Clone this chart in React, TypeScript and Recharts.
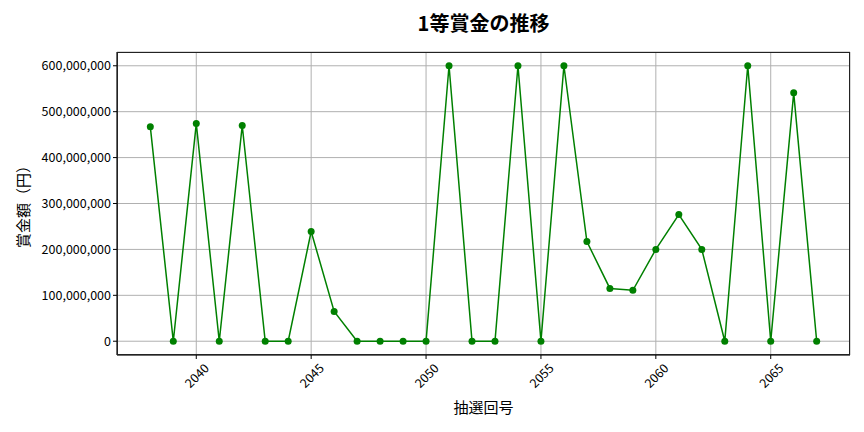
import { LineChart, Line, XAxis, YAxis, CartesianGrid } from 'recharts';

const draws = [
  2038, 2039, 2040, 2041, 2042, 2043, 2044, 2045, 2046, 2047, 2048, 2049, 2050, 2051, 2052,
  2053, 2054, 2055, 2056, 2057, 2058, 2059, 2060, 2061, 2062, 2063, 2064, 2065, 2066, 2067,
];
const prizes = [
  467000000, 0, 474000000, 0, 470000000, 0, 0, 239000000, 65000000, 0, 0, 0, 0, 600000000, 0,
  0, 600000000, 0, 600000000, 217000000, 115000000, 111000000, 200000000, 276000000, 200000000, 0, 600000000, 0, 541000000, 0,
];
const xTicks = [2040, 2045, 2050, 2055, 2060, 2065];
const yTicks = [0, 100000000, 200000000, 300000000, 400000000, 500000000, 600000000];

const FONT = '"Noto Sans CJK JP", "Noto Sans", sans-serif';

const data = draws.map((d, i) => ({ draw: d, prize: prizes[i] }));

// matplotlib-style 45° labels, centred under the tick
function XTick({ x, y, payload }: any) {
  const cy = y + 14;
  return (
    <text
      x={x}
      y={cy}
      transform={`rotate(-45, ${x}, ${cy})`}
      textAnchor="middle"
      dominantBaseline="central"
      fontSize={12.5}
      fontFamily={FONT}
      fill="#000"
    >
      {payload.value}
    </text>
  );
}

export default function App() {
  return (
    <div style={{ position: 'absolute', left: 0, top: 0, width: 864, height: 432, background: '#fff', fontFamily: FONT }}>
      <div style={{ position: 'absolute', left: 117, top: 8, width: 733, textAlign: 'center', fontSize: 20, fontWeight: 'bold' }}>
        1等賞金の推移
      </div>
      <LineChart width={864} height={432} data={data} margin={{ top: 52, right: 14, bottom: 37, left: 10 }}>
        <CartesianGrid stroke="#b0b0b0" strokeWidth={1} />
        <XAxis
          dataKey="draw"
          type="number"
          domain={[2036.55, 2068.45]}
          ticks={xTicks}
          tick={<XTick />}
          tickSize={4}
          height={40}
          stroke="#000"
          allowDataOverflow
        />
        <YAxis
          type="number"
          domain={[-30000000, 630000000]}
          ticks={yTicks}
          tickFormatter={(v: number) => v.toLocaleString('en-US')}
          tick={{ fontSize: 12.5, fill: '#000', fontFamily: FONT }}
          tickSize={4}
          width={107}
          stroke="#000"
          allowDataOverflow
        />
        <Line
          dataKey="prize"
          stroke="#008000"
          strokeWidth={1.5}
          dot={{ r: 3.5, fill: '#008000', stroke: '#008000', strokeWidth: 0 }}
          isAnimationActive={false}
        />
      </LineChart>
      <div style={{ position: 'absolute', left: 117, top: 52, width: 733, height: 303, border: '1px solid #222', boxSizing: 'border-box', pointerEvents: 'none' }} />
      <div style={{ position: 'absolute', left: 117, top: 396, width: 733, textAlign: 'center', fontSize: 15 }}>
        抽選回号
      </div>
      <div
        style={{
          position: 'absolute',
          left: 22,
          top: 203,
          transform: 'translate(-50%, -50%) rotate(-90deg)',
          fontSize: 15,
          whiteSpace: 'nowrap',
        }}
      >
        賞金額（円）
      </div>
    </div>
  );
}
